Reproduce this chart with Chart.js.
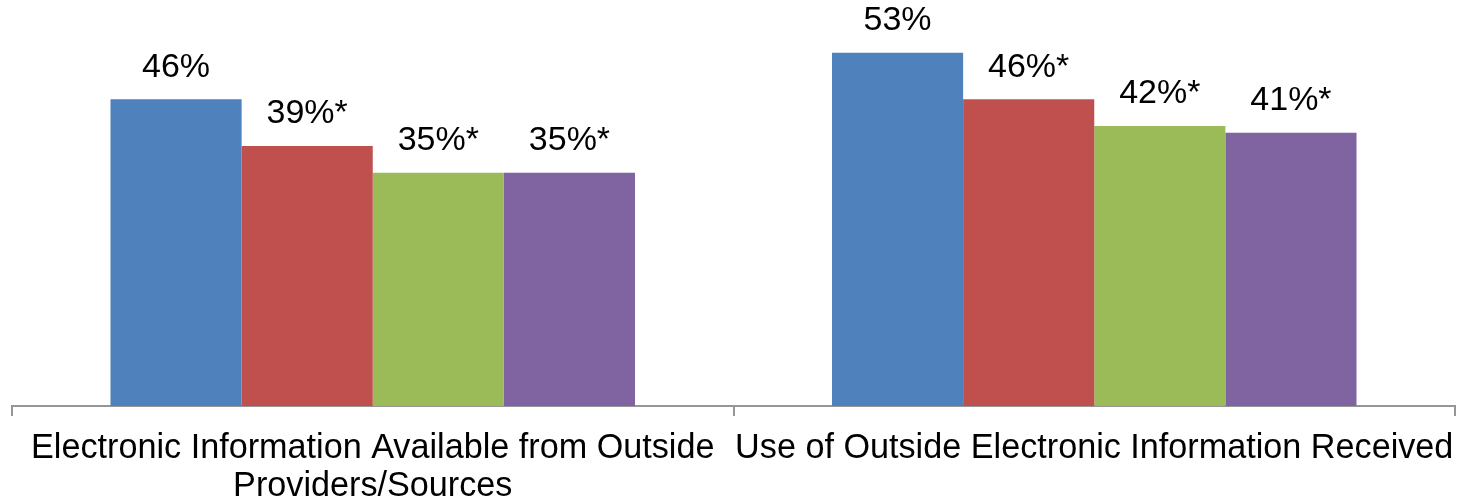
<!DOCTYPE html>
<html>
<head>
<meta charset="utf-8">
<script src="https://cdn.jsdelivr.net/npm/chart.js@4/dist/chart.umd.min.js"></script>
<style>
  html, body { margin: 0; padding: 0; background: #ffffff; }
  #wrap { width: 1463px; height: 501px; position: relative; }
</style>
</head>
<body>
<div id="wrap"><canvas id="chart"></canvas></div>
<script>
// Categories (multi-line axis labels)
const categories = [
  ['Electronic Information Available from Outside', 'Providers/Sources'],
  ['Use of Outside Electronic Information Received']
];

// Percent values per series
const series1 = [46, 53];
const series2 = [39, 46];
const series3 = [35, 42];
const series4 = [35, 41];

// Statistically significant difference markers (asterisk)
const sig1 = [false, false];
const sig2 = [true, true];
const sig3 = [true, true];
const sig4 = [true, true];

const colors = ['#4F81BD', '#C0504D', '#9BBB59', '#8064A2'];
const allValues = [series1, series2, series3, series4];
const allSig = [sig1, sig2, sig3, sig4];

const FONT = '"Liberation Sans", Arial, sans-serif';

// Draws "NN%" / "NN%*" above each bar
const valueLabels = {
  id: 'valueLabels',
  afterDatasetsDraw(chart) {
    const ctx = chart.ctx;
    ctx.save();
    ctx.font = '34px ' + FONT;
    ctx.fillStyle = '#000000';
    ctx.textAlign = 'center';
    ctx.textBaseline = 'middle';
    chart.data.datasets.forEach((ds, di) => {
      const meta = chart.getDatasetMeta(di);
      meta.data.forEach((bar, i) => {
        const text = ds.data[i] + '%' + (allSig[di][i] ? '*' : '');
        ctx.fillText(text, bar.x, bar.y - 32);
      });
    });
    ctx.restore();
  }
};

new Chart(document.getElementById('chart'), {
  type: 'bar',
  data: {
    labels: categories,
    datasets: allValues.map((vals, i) => ({
      label: 'Series ' + (i + 1),
      data: vals,
      backgroundColor: colors[i],
      borderWidth: 0,
      barPercentage: 1.0,
      categoryPercentage: 0.727
    }))
  },
  options: {
    responsive: true,
    maintainAspectRatio: false,
    animation: false,
    layout: { padding: { left: 12, right: 8, top: 6, bottom: 0 } },
    plugins: {
      legend: { display: false },
      title: { display: false },
      tooltip: { enabled: false }
    },
    scales: {
      x: {
        offset: true,
        // labels are allowed to run to the plot edges; fixed band height below the axis
        afterFit(scale) {
          scale.paddingLeft = 0;
          scale.paddingRight = 0;
          scale.height = 95;
        },
        grid: {
          display: true,
          offset: true,
          drawOnChartArea: false,
          drawTicks: true,
          tickLength: 10,
          color: '#969696',
          lineWidth: 2
        },
        border: { display: true, color: '#969696', width: 2 },
        ticks: {
          color: '#000000',
          font: { family: FONT, size: 34.2, lineHeight: 1.12 },
          padding: 13,
          maxRotation: 0,
          minRotation: 0,
          autoSkip: false
        }
      },
      y: {
        display: false,
        min: 0,
        max: 60
      }
    }
  },
  plugins: [valueLabels]
});
</script>
</body>
</html>
